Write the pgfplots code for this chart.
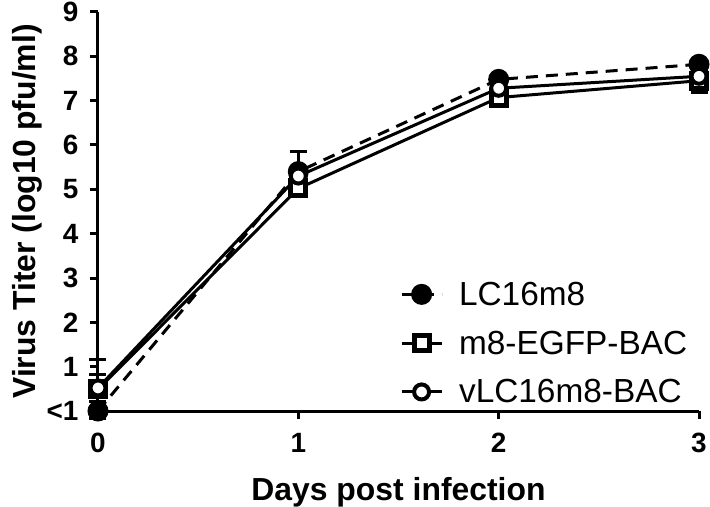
\documentclass[border=0pt]{standalone}
\usepackage{fontspec}
\setmainfont{Liberation Sans}
\usepackage{pgfplots}
\pgfplotsset{compat=1.18}
\begin{document}
\begin{tikzpicture}
\begin{axis}[
  at={(0,0)}, anchor=south west,
  scale only axis, width=601bp, height=399bp,
  xmin=0, xmax=3, ymin=0, ymax=9,
  axis x line=bottom, axis y line=left,
  axis line style={line width=3bp, -},
  tick align=outside, major tick length=8bp,
  major tick style={line width=3bp, black},
  xtick={0,1,2,3}, ytick={0,1,2,3,4,5,6,7,8,9},
  yticklabels={<1,1,2,3,4,5,6,7,8,9},
  /pgf/number format/assume math mode=true,
  ticklabel style={font=\fontsize{28}{32}\selectfont\bfseries},
  xticklabel style={yshift=-11bp},
  yticklabel style={xshift=-8bp},
  xlabel={Days post infection}, ylabel={Virus Titer (log10 pfu/ml)},
  label style={font=\fontsize{32}{38}\selectfont\bfseries},
  xlabel style={at={(axis description cs:0.5,-0.2231)}, anchor=base},
  ylabel style={at={(axis description cs:-0.1048,0.5)}, anchor=base},
  clip=false,
  legend cell align=left,
  legend style={at={(axis cs:1.507,1.53)}, anchor=west, draw=none, fill=none,
    inner sep=0pt, font=\fontsize{33.5}{38}\selectfont, row sep=20bp,
    /tikz/every odd column/.append style={column sep=14bp}},
  legend image code/.code={\draw[mark repeat=2,mark phase=2,#1] plot coordinates {(0bp,0bp) (20bp,0bp) (40bp,0bp)};},
  error bars/error bar style={line width=3bp, solid},
  error bars/error mark options={rotate=90, mark size=8.5bp, line width=3bp, solid},
]
\addplot[black, line width=3bp, dash pattern=on 12bp off 8bp, mark=*, mark size=9bp,
  mark options={solid, fill=black},
  error bars/.cd, y dir=both, y explicit]
  coordinates {(0,0) +- (0,0.02) (1,5.40) +- (0,0.45) (2,7.48) +- (0,0.05) (3,7.82) +- (0,0.08)};
\addlegendentry{LC16m8}
\addplot[black, line width=3bp, mark=square*, mark size=7.5bp,
  mark options={solid, fill=white, line width=5bp},
  error bars/.cd, y dir=both, y explicit]
  coordinates {(0,0.49) +- (0,0.67) (1,5.02) +- (0,0.12) (2,7.07) +- (0,0.1) (3,7.45) +- (0,0.27)};
\addlegendentry{m8-EGFP-BAC}
\addplot[black, line width=3bp, mark=*, mark size=7.5bp,
  mark options={solid, fill=white, line width=4bp},
  error bars/.cd, y dir=both, y explicit]
  coordinates {(0,0.52) +- (0,0.3) (1,5.30) +- (0,0.15) (2,7.28) +- (0,0.1) (3,7.55) +- (0,0.1)};
\addlegendentry{vLC16m8-BAC}
\end{axis}
\pgfresetboundingbox
\path[use as bounding box] (-98bp,-96bp) rectangle (612bp,411bp);
\end{tikzpicture}
\end{document}
